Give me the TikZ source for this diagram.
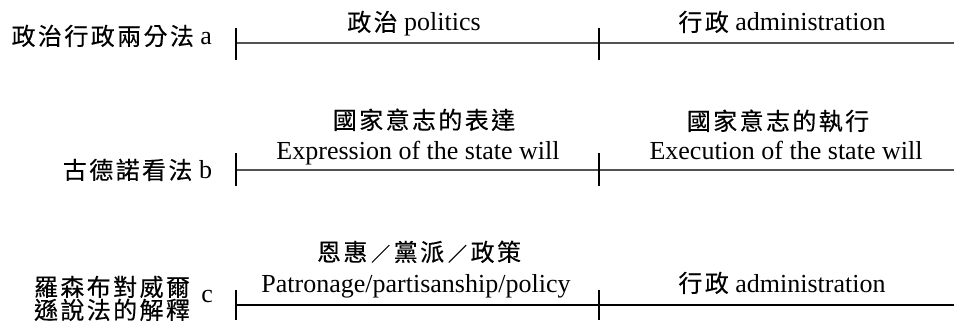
\documentclass[tikz,border=0pt]{standalone}
\usepackage{fontspec}
\setmainfont{Liberation Serif}
\newfontfamily\cjkfont[LetterSpace=10,FakeBold=0.3]{Noto Sans CJK TC}
\newcommand{\zh}[1]{{\cjkfont\fontsize{24}{29}\selectfont #1}}
\newcommand{\slashcell}{\makebox[26.4pt][c]{\fontsize{19}{19}\selectfont ／}}
\usetikzlibrary{calc}
\begin{document}
\begin{tikzpicture}[x=1pt,y=-1pt,
  txt/.style={inner sep=0pt, outer sep=0pt, font=\fontsize{26}{31}\selectfont},
  axisline/.style={draw=black!68, line width=1.9pt},
  axislinec/.style={draw=black, line width=1.4pt},
  tick/.style={draw=black, line width=1.2pt}]
\useasboundingbox (0,0) rectangle (954,334);
% row a
\coordinate (a0) at (236,43); \coordinate (a1) at (599,43); \coordinate (a2) at (954,43);
\draw[axisline] (a0) -- (a2);
\draw[tick] ($(a0)+(0,-15)$) -- ($(a0)+(0,17)$);
\draw[tick] ($(a1)+(0,-15)$) -- ($(a1)+(0,17)$);
\node[txt, anchor=base east] (la) at (212,45) {\zh{政治行政兩分法} a};
\node[txt, anchor=base] (pa) at (414,31) {\zh{政治} politics};
\node[txt, anchor=base] (ra) at (782,31) {\zh{行政} administration};
% row b
\coordinate (b0) at (236,170); \coordinate (b1) at (599,170); \coordinate (b2) at (954,170);
\draw[axisline] (b0) -- (b2);
\draw[tick] ($(b0)+(0,-17)$) -- ($(b0)+(0,16)$);
\draw[tick] ($(b1)+(0,-17)$) -- ($(b1)+(0,16)$);
\node[txt, anchor=base east] (lb) at (212,179) {\zh{古德諾看法} b};
\node[txt, anchor=base] (pb1) at (424,129) {\zh{國家意志的表達}};
\node[txt, anchor=base] (pb2) at (418,160) {Expression of the state will};
\node[txt, anchor=base] (rb1) at (778,130) {\zh{國家意志的執行}};
\node[txt, anchor=base] (rb2) at (786,160) {Execution of the state will};
% row c
\coordinate (c0) at (236,305); \coordinate (c1) at (599,305); \coordinate (c2) at (954,305);
\draw[axislinec] (c0) -- (c2);
\draw[tick] ($(c0)+(0,-15)$) -- ($(c0)+(0,15)$);
\draw[tick] ($(c1)+(0,-15)$) -- ($(c1)+(0,15)$);
\node[txt, anchor=base west] (lc1) at (34,296) {\zh{羅森布對威爾}};
\node[txt, anchor=base west] (lc2) at (34,319) {\zh{遜說法的解釋}};
\node[txt, anchor=base east] (lc3) at (213,302) {c};
\node[txt, anchor=base] (pc1) at (419,261) {\zh{恩惠\slashcell 黨派\slashcell 政策}};
\node[txt, anchor=base] (pc2) at (416,292) {Patronage/partisanship/policy};
\node[txt, anchor=base] (rc) at (782,292) {\zh{行政} administration};
\end{tikzpicture}
\end{document}
